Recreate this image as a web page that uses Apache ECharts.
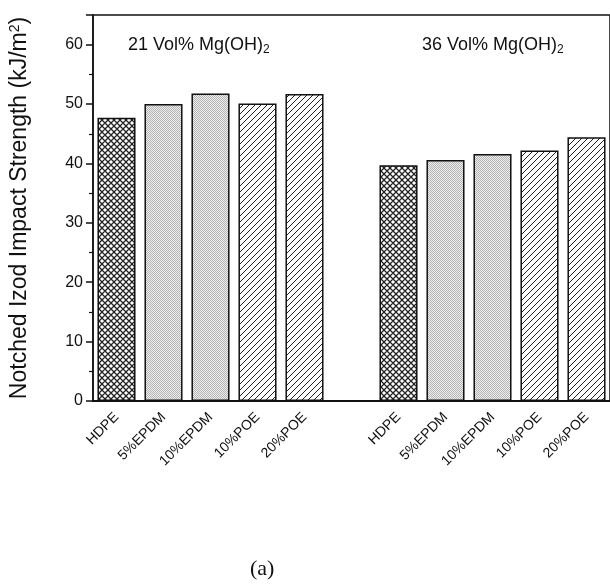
<!DOCTYPE html>
<html>
<head>
<meta charset="utf-8">
<script src="https://cdn.jsdelivr.net/npm/echarts@6/dist/echarts.min.js"></script>
<style>
	html, body { margin: 0; padding: 0; background: #fff; }
	#chart { width: 610px; height: 588px; }
</style>
</head>
<body>
<div id="chart"></div>
<script>
const sampleNames = ['HDPE', '5%EPDM', '10%EPDM', '10%POE', '20%POE'];
const vol21Values = [47.7, 50.0, 51.8, 50.1, 51.7];
const vol36Values = [39.7, 40.6, 41.6, 42.2, 44.4];
const fillKinds = ['cross', 'dots', 'dots', 'hatch', 'hatch'];
const yTicks = [0, 10, 20, 30, 40, 50, 60];

function makeTile(kind) {
	const c = document.createElement('canvas');
	const ctx = c.getContext('2d');
	if (kind === 'dots') {
		c.width = 2; c.height = 2;
		ctx.fillStyle = '#eeeeee';
		ctx.fillRect(0, 0, 2, 2);
		ctx.fillStyle = '#b4b4b4';
		ctx.fillRect(0, 0, 1, 1);
		ctx.fillRect(1, 1, 1, 1);
		return c;
	}
	c.width = 6; c.height = 6;
	ctx.fillStyle = '#fff';
	ctx.fillRect(0, 0, 6, 6);
	ctx.strokeStyle = '#222';
	ctx.lineWidth = kind === 'cross' ? 1.3 : 1;
	ctx.beginPath();
	// "/" lines
	ctx.moveTo(-1, 7); ctx.lineTo(7, -1);
	ctx.moveTo(-4, 4); ctx.lineTo(4, -4);
	ctx.moveTo(2, 10); ctx.lineTo(10, 2);
	if (kind === 'cross') {
		ctx.moveTo(-1, -1); ctx.lineTo(7, 7);
		ctx.moveTo(-4, 2); ctx.lineTo(4, 10);
		ctx.moveTo(2, -4); ctx.lineTo(10, 4);
	}
	ctx.stroke();
	return c;
}

function barItem(value, kind) {
	return {
		value: value,
		itemStyle: {
			color: { image: makeTile(kind), repeat: 'repeat' },
			borderColor: '#111',
			borderWidth: 1.5
		}
	};
}

// one empty slot between the two groups
const categories = sampleNames.concat([''], sampleNames);
const barData = vol21Values.map((v, i) => barItem(v, fillKinds[i]))
	.concat([null])
	.concat(vol36Values.map((v, i) => barItem(v, fillKinds[i])));

const font = '"Liberation Sans", Arial, sans-serif';
const subStyle = { fontSize: 12, fontFamily: font, fill: '#111', verticalAlign: 'bottom', padding: [10, 0, 0, 0] };
const chart = echarts.init(document.getElementById('chart'));

chart.setOption({
	animation: false,
	grid: {
		left: 93, right: -3, top: 15, bottom: 187,
		show: true, borderColor: '#111', borderWidth: 1.5
	},
	xAxis: {
		type: 'category',
		data: categories,
		axisLine: { lineStyle: { color: '#111', width: 2 } },
		axisTick: { show: false },
		axisLabel: {
			rotate: 45, interval: 0, margin: 14,
			fontFamily: font, fontSize: 14, color: '#111'
		}
	},
	yAxis: {
		type: 'value',
		min: 0, max: 65, interval: 10,
		name: 'Notched Izod Impact Strength (kJ/m{sup|2})',
		nameLocation: 'middle',
		nameGap: 61,
		nameTextStyle: {
			fontFamily: font, fontSize: 23, color: '#111',
			rich: { sup: { fontFamily: font, fontSize: 14, color: '#111', verticalAlign: 'top', padding: [0, 0, 10, 0] } }
		},
		splitLine: { show: false },
		axisLine: { show: true, lineStyle: { color: '#111', width: 1.5 } },
		axisTick: { show: true, length: 7, lineStyle: { color: '#111', width: 1.5 } },
		minorTick: { show: true, splitNumber: 2, length: 4, lineStyle: { color: '#111', width: 1.2 } },
		axisLabel: {
			margin: 10, fontFamily: font, fontSize: 16, color: '#111',
			formatter: v => yTicks.includes(v) ? String(v) : ''
		}
	},
	series: [{
		type: 'bar',
		data: barData,
		barCategoryGap: '19%'
	}],
	graphic: [
		{
			type: 'text', left: 128, top: 36,
			style: { text: '21 Vol% Mg(OH){sub|2}', font: '18px ' + font, fill: '#111', rich: { sub: subStyle } }
		},
		{
			type: 'text', left: 422, top: 36,
			style: { text: '36 Vol% Mg(OH){sub|2}', font: '18px ' + font, fill: '#111', rich: { sub: subStyle } }
		},
		{
			type: 'text', left: 250, top: 558,
			style: { text: '(a)', font: '22px "Liberation Serif", "Times New Roman", serif', fill: '#111' }
		}
	]
});
</script>
</body>
</html>
